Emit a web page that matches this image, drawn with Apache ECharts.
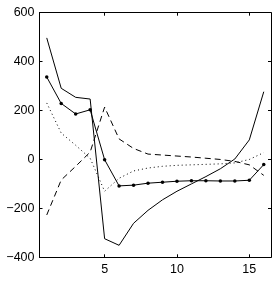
<!DOCTYPE html>
<html>
<head>
<meta charset="utf-8">
<script src="https://cdn.jsdelivr.net/npm/echarts@6/dist/echarts.min.js"></script>
<style>
html,body{margin:0;padding:0;background:#fff;}
#c{width:278px;height:281px;}
</style>
</head>
<body>
<div id="c"></div>
<script>
var xs = [1,2,3,4,5,6,7,8,9,10,11,12,13,14,15,16];
var solidLine = [497,291,254,247,-324,-351,-261,-208,-165,-130,-100,-70,-38,2,80,277];
var markerLine = [337,229,186,203,-1,-108,-105,-97,-93,-89,-87,-87,-88,-88,-85,-21];
var dottedLine = [231,108,58,5,-130,-77,-47,-35,-28,-24,-22,-20,-18,-14,0,28];
var dashedLine = [-227,-84,-28,30,214,84,45,22,18,14,10,5,0,-8,-22,-65];
var xTicks = [5,10,15];
var yMin = -400, yMax = 600, yStep = 200;

function pairs(v){ return xs.map(function(x,i){ return [x, v[i]]; }); }

var font = 'Liberation Sans, Arial, sans-serif';
var chart = echarts.init(document.getElementById('c'), null, {renderer:'canvas'});
var axisLineStyle = {color:'#000', width:1};
chart.setOption({
  animation:false,
  backgroundColor:'#fff',
  grid:{left:39.5, right:7, top:12.7, bottom:23.7, containLabel:false},
  xAxis:[
    {type:'value', min:0.5, max:16.5, position:'bottom',
     axisLine:{show:true, onZero:false, lineStyle:axisLineStyle},
     axisTick:{show:true, inside:true, length:3, customValues:xTicks, lineStyle:axisLineStyle},
     axisLabel:{show:true, customValues:xTicks, color:'#000', fontSize:12.5, fontFamily:font, margin:6},
     splitLine:{show:false}},
    {type:'value', min:0.5, max:16.5, position:'top',
     axisLine:{show:true, onZero:false, lineStyle:axisLineStyle},
     axisTick:{show:true, inside:true, length:3, customValues:xTicks, lineStyle:axisLineStyle},
     axisLabel:{show:false}, splitLine:{show:false}}
  ],
  yAxis:[
    {type:'value', min:yMin, max:yMax, interval:yStep, position:'left',
     axisLine:{show:true, onZero:false, lineStyle:axisLineStyle},
     axisTick:{show:true, inside:true, length:3, lineStyle:axisLineStyle},
     axisLabel:{show:true, color:'#000', fontSize:12.5, fontFamily:font, margin:5,
       formatter:function(v){ return v < 0 ? '\u2212' + Math.abs(v) : String(v); }},
     splitLine:{show:false}},
    {type:'value', min:yMin, max:yMax, interval:yStep, position:'right',
     axisLine:{show:true, onZero:false, lineStyle:axisLineStyle},
     axisTick:{show:true, inside:true, length:3, lineStyle:axisLineStyle},
     axisLabel:{show:false}, splitLine:{show:false}}
  ],
  series:[
    {type:'line', data:pairs(solidLine), showSymbol:false, symbol:'none',
     lineStyle:{color:'#000', width:1}},
    {type:'line', data:pairs(markerLine), symbol:'circle', symbolSize:3.5,
     itemStyle:{color:'#000'}, lineStyle:{color:'#000', width:1}},
    {type:'line', data:pairs(dottedLine), symbol:'none',
     lineStyle:{color:'#000', width:1, type:[1,3]}},
    {type:'line', data:pairs(dashedLine), symbol:'none',
     lineStyle:{color:'#000', width:1, type:[6,4]}}
  ]
});
</script>
</body>
</html>
